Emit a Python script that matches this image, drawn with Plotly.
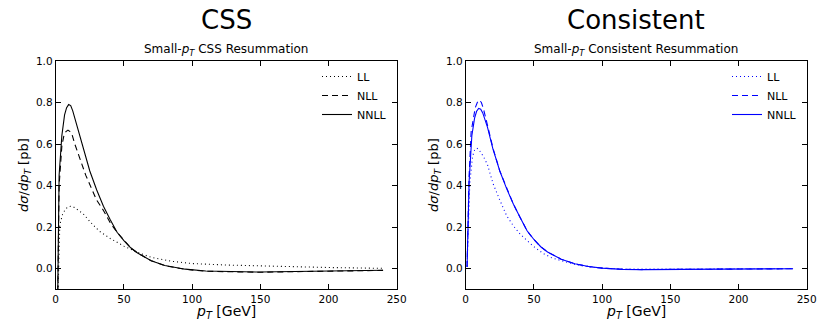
import plotly.graph_objects as go

# ---- data ----
pt_css_ll = [1, 3, 5, 7, 9, 11, 13, 16, 20, 26, 32, 40, 50, 60, 70, 85, 100, 125, 150, 175, 200, 240]
css_ll = [-0.3, 0.21, 0.26, 0.285, 0.297, 0.30, 0.297, 0.285, 0.265, 0.22, 0.18, 0.145, 0.108, 0.078, 0.054, 0.035, 0.024, 0.017, 0.012, 0.008, 0.005, 0.001]

pt_css_nll = [1, 2.5, 4.5, 6, 7.5, 9, 10.5, 12, 14, 18, 22, 26, 30, 35, 40, 45, 50, 55, 60, 70, 80, 95, 110, 130, 150, 175, 200, 240]
css_nll = [-0.4, 0.40, 0.59, 0.64, 0.66, 0.667, 0.66, 0.645, 0.60, 0.52, 0.45, 0.39, 0.33, 0.28, 0.22, 0.175, 0.135, 0.10, 0.075, 0.038, 0.014, -0.004, -0.013, -0.017, -0.018, -0.015, -0.012, -0.009]

pt_css_nnll = [1, 2.5, 4.5, 6.5, 8, 9.5, 11, 12.5, 14, 16, 20, 25, 30, 35, 40, 45, 50, 55, 60, 70, 80, 95, 110, 130, 150, 175, 200, 240]
css_nnll = [-0.4, 0.45, 0.64, 0.74, 0.775, 0.79, 0.785, 0.76, 0.725, 0.68, 0.58, 0.47, 0.38, 0.30, 0.235, 0.175, 0.135, 0.10, 0.075, 0.038, 0.015, -0.003, -0.012, -0.016, -0.017, -0.014, -0.011, -0.008]

pt_con_ll = [1, 3, 5, 6.5, 8, 9.5, 11, 13, 16, 20, 25, 30, 35, 40, 45, 50, 57, 63, 70, 80, 90, 100, 115, 130, 150, 175, 200, 240]
con_ll = [0.01, 0.41, 0.54, 0.57, 0.58, 0.575, 0.56, 0.54, 0.50, 0.41, 0.33, 0.255, 0.205, 0.165, 0.135, 0.105, 0.072, 0.052, 0.038, 0.02, 0.008, 0.002, -0.002, -0.003, -0.003, -0.002, -0.001, 0.0]

pt_con_nll = [1, 2.5, 4, 5.6, 7, 8.5, 10, 11.5, 13, 16, 20, 25, 30, 35, 40, 45, 50, 55, 60, 70, 80, 90, 100, 115, 130, 150, 175, 200, 240]
con_nll = [0.008, 0.45, 0.66, 0.73, 0.775, 0.80, 0.812, 0.80, 0.77, 0.69, 0.58, 0.47, 0.385, 0.31, 0.245, 0.182, 0.14, 0.105, 0.08, 0.045, 0.023, 0.01, 0.002, -0.004, -0.005, -0.004, -0.003, -0.002, -0.001]

pt_con_nnll = [1, 2.5, 4.5, 6.5, 8, 9.5, 11, 12.5, 14, 16, 20, 25, 30, 35, 40, 45, 50, 55, 60, 70, 80, 90, 100, 115, 130, 150, 175, 200, 240]
con_nnll = [0.008, 0.42, 0.64, 0.725, 0.758, 0.772, 0.768, 0.75, 0.72, 0.68, 0.575, 0.47, 0.385, 0.31, 0.245, 0.182, 0.14, 0.105, 0.08, 0.045, 0.023, 0.01, 0.002, -0.004, -0.005, -0.004, -0.003, -0.002, -0.001]

x_ticks = [0, 50, 100, 150, 200, 250]
y_ticks = [0.0, 0.2, 0.4, 0.6, 0.8, 1.0]
labels = ["LL", "NLL", "NNLL"]
dashes = ["1px,3px", "6px,4px", "solid"]

FONT = "DejaVu Sans"
W, H = 817, 322


def px(x):
    return x / W


def py(y):
    return (H - y) / H


fig = go.Figure()

left = [(pt_css_ll, css_ll), (pt_css_nll, css_nll), (pt_css_nnll, css_nnll)]
right = [(pt_con_ll, con_ll), (pt_con_nll, con_nll), (pt_con_nnll, con_nnll)]

for (x, y), name, d in zip(left, labels, dashes):
    fig.add_trace(go.Scatter(x=x, y=y, mode="lines", name=name, xaxis="x", yaxis="y",
                             line=dict(color="black", width=1.1, dash=d), legend="legend"))
for (x, y), name, d in zip(right, labels, dashes):
    fig.add_trace(go.Scatter(x=x, y=y, mode="lines", name=name, xaxis="x2", yaxis="y2",
                             line=dict(color="#0000ff", width=1.1, dash=d), legend="legend2"))

ydom = [py(289.3), py(61)]
xdom1 = [px(55.7), px(396.7)]
xdom2 = [px(465.7), px(806.7)]

axis_common = dict(showgrid=False, zeroline=False, showline=True, linecolor="black", linewidth=1,
                   mirror="allticks", ticks="inside", ticklen=5, tickcolor="black", automargin=False,
                   tickfont=dict(family=FONT, size=10.5, color="black"))

fig.update_layout(
    width=W, height=H, margin=dict(l=0, r=0, t=0, b=0, autoexpand=False),
    paper_bgcolor="white", plot_bgcolor="white",
    font=dict(family=FONT, color="black"),
    xaxis=dict(domain=xdom1, range=[0, 250], tickvals=x_ticks, anchor="y", **axis_common),
    yaxis=dict(domain=ydom, range=[-0.1, 1.0], tickvals=y_ticks, tickformat=".1f", anchor="x", **axis_common),
    xaxis2=dict(domain=xdom2, range=[0, 250], tickvals=x_ticks, anchor="y2", **axis_common),
    yaxis2=dict(domain=ydom, range=[-0.1, 1.0], tickvals=y_ticks, tickformat=".1f", anchor="x2", **axis_common),
    legend=dict(x=px(392), y=py(62), xanchor="right", yanchor="top", bgcolor="rgba(0,0,0,0)",
                font=dict(family=FONT, size=11), itemwidth=30, tracegroupgap=0),
    legend2=dict(x=px(802), y=py(62), xanchor="right", yanchor="top", bgcolor="rgba(0,0,0,0)",
                 font=dict(family=FONT, size=11), itemwidth=30, tracegroupgap=0),
    showlegend=True,
)

ann = []
for cx, big, small in [((55.7 + 396.7) / 2, "CSS", "Small-<i>p<sub>T</sub></i> CSS Resummation"),
                       ((465.7 + 806.7) / 2, "Consistent", "Small-<i>p<sub>T</sub></i> Consistent Resummation")]:
    ann.append(dict(x=px(cx), y=py(20), xref="paper", yref="paper", text=big, showarrow=False,
                    font=dict(family=FONT, size=26), xanchor="center", yanchor="middle"))
    ann.append(dict(x=px(cx), y=py(50), xref="paper", yref="paper", text=small, showarrow=False,
                    font=dict(family=FONT, size=12), xanchor="center", yanchor="middle"))
    ann.append(dict(x=px(cx), y=py(311.5), xref="paper", yref="paper", text="<i>p<sub>T</sub></i> [GeV]",
                    showarrow=False, font=dict(family=FONT, size=14), xanchor="center", yanchor="middle"))
for lx in [24, 434]:
    ann.append(dict(x=px(lx), y=py(175), xref="paper", yref="paper",
                    text="<i>dσ</i>/<i>dp<sub>T</sub></i> [pb]", textangle=-90, showarrow=False,
                    font=dict(family=FONT, size=13), xanchor="center", yanchor="middle"))
fig.update_layout(annotations=ann)

fig.write_html("out.html", config={"displayModeBar": False},
               post_script="document.body.style.margin='0';document.body.style.padding='0';"
                           "document.body.style.overflow='hidden';")
